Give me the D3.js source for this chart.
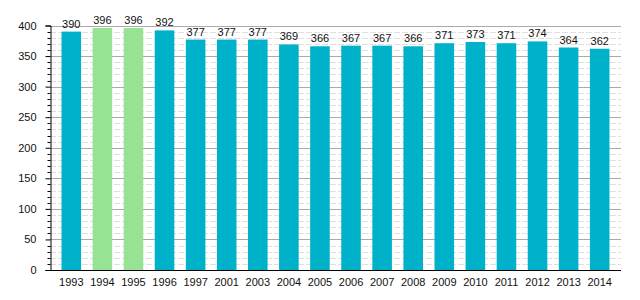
<!DOCTYPE html>
<html>
<head>
<meta charset="utf-8">
<script src="https://cdn.jsdelivr.net/npm/d3@7"></script>
<style>
  body { margin: 0; background: #fff; }
  text { font-family: "Liberation Sans", Arial, sans-serif; font-size: 11px; fill: #111; }
</style>
</head>
<body>
<svg width="640" height="300"></svg>
<script>
var years = ["1993","1994","1995","1996","1997","2001","2003","2004","2005","2006","2007","2008","2009","2010","2011","2012","2013","2014"];
var values = [390,396,396,392,377,377,377,369,366,367,367,366,371,373,371,374,364,362];
// years drawn in green
var greenYears = ["1994","1995"];
var yTicks = [0,50,100,150,200,250,300,350,400];

var teal = "#00b1ca";
var green = "#98e294";

var svg = d3.select("svg");

var x = d3.scaleBand()
  .domain(years)
  .range([50, 621])
  .paddingInner(0.37)
  .paddingOuter(0.37);

var y = d3.scaleLinear()
  .domain([0, 400])
  .range([270, 25.5]);

var minor = d3.range(10, 400, 10).filter(function(d) { return d % 50 != 0; });

// minor grid every 10
svg.append("g").selectAll("line")
  .data(minor)
  .enter().append("line")
    .attr("x1", 50).attr("x2", 621)
    .attr("y1", function(d) { return Math.round(y(d)) + 0.5; })
    .attr("y2", function(d) { return Math.round(y(d)) + 0.5; })
    .attr("stroke", "#e0e0e0")
    .attr("stroke-dasharray", "6,2");

// major grid
svg.append("g").selectAll("line")
  .data(yTicks.slice(1))
  .enter().append("line")
    .attr("x1", 50).attr("x2", 621)
    .attr("y1", function(d) { return Math.round(y(d)) + 0.5; })
    .attr("y2", function(d) { return Math.round(y(d)) + 0.5; })
    .attr("stroke", "#aaaaaa");

// bars
svg.append("g").selectAll("rect")
  .data(years)
  .enter().append("rect")
    .attr("x", function(d) { return x(d); })
    .attr("y", function(d, i) { return y(values[i]); })
    .attr("width", x.bandwidth())
    .attr("height", function(d, i) { return y(0) - y(values[i]); })
    .attr("fill", function(d) { return greenYears.indexOf(d) >= 0 ? green : teal; });

// value labels
svg.append("g").selectAll("text")
  .data(years)
  .enter().append("text")
    .attr("x", function(d) { return x(d) + x.bandwidth() / 2; })
    .attr("y", function(d, i) { return y(values[i]) - 4; })
    .attr("text-anchor", "middle")
    .text(function(d, i) { return values[i]; });

// y axis
var yAxis = d3.axisLeft(y)
  .tickValues(yTicks)
  .tickSize(5)
  .tickPadding(9);
var ya = svg.append("g")
  .attr("transform", "translate(50.5,0)")
  .call(yAxis);
ya.selectAll("text").style("font-size", "11px").style("font-family", "'Liberation Sans', Arial, sans-serif").attr("fill", "#111");
ya.select(".domain").attr("stroke", "#000");
ya.selectAll(".tick line").attr("stroke", "#000");

// minor ticks on axis
svg.append("g").selectAll("line")
  .data(minor)
  .enter().append("line")
    .attr("x1", 47.5).attr("x2", 50.5)
    .attr("y1", function(d) { return Math.round(y(d)) + 0.5; })
    .attr("y2", function(d) { return Math.round(y(d)) + 0.5; })
    .attr("stroke", "#000");

// x axis
var xAxis = d3.axisBottom(x).tickSize(0).tickPadding(8);
var xa = svg.append("g")
  .attr("transform", "translate(0," + (Math.round(y(0)) + 0.5) + ")")
  .call(xAxis);
xa.selectAll("text").style("font-size", "11px").style("font-family", "'Liberation Sans', Arial, sans-serif").attr("fill", "#111");
xa.select(".domain").attr("stroke", "#000").attr("d", "M50,0H621");
</script>
</body>
</html>
